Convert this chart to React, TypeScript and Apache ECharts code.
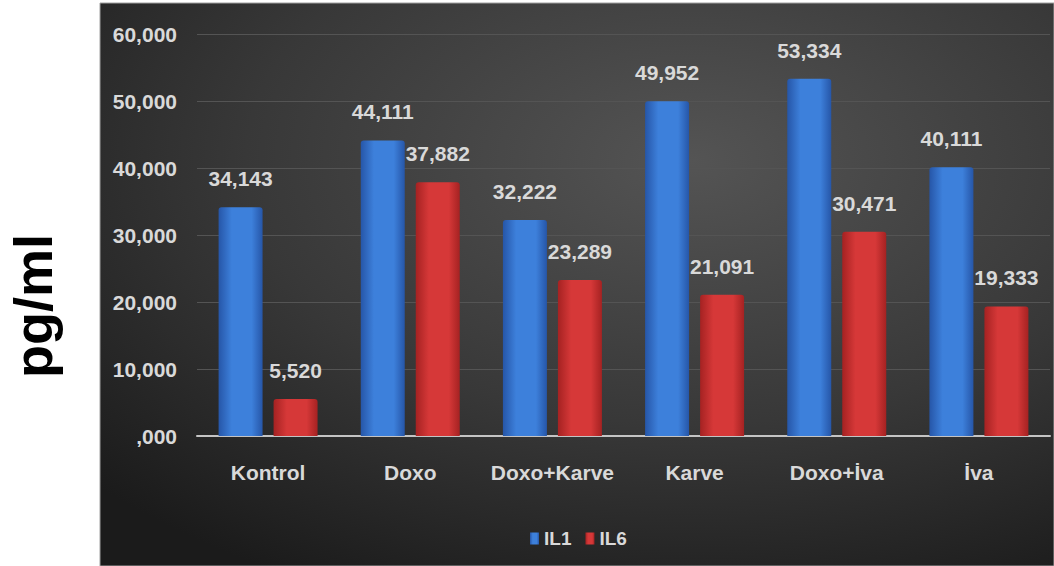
import React, { useEffect, useRef } from "react";
import * as echarts from "echarts";

const categories = ["Kontrol", "Doxo", "Doxo+Karve", "Karve", "Doxo+İva", "İva"];
const il1Values = [34.143, 44.111, 32.222, 49.952, 53.334, 40.111];
const il6Values = [5.52, 37.882, 23.289, 21.091, 30.471, 19.333];
const seriesNames = ["IL1", "IL6"];
const yAxisTitle = "pg/ml";

const fmt = (v: number) => {
  const s = v.toFixed(3).replace(".", ",");
  return s.startsWith("0,") ? s.slice(1) : s;
};

const barGrad = (edge: string, mid: string) =>
  new echarts.graphic.LinearGradient(0, 0, 1, 0, [
    { offset: 0, color: edge },
    { offset: 0.3, color: mid },
    { offset: 0.75, color: mid },
    { offset: 1, color: edge },
  ]);

const FONT = "Liberation Sans Narrow, Liberation Sans, Arial, sans-serif";

export default function App() {
  const ref = useRef<HTMLDivElement>(null);
  useEffect(() => {
    if (!ref.current) return;
    const chart = echarts.init(ref.current, undefined, { renderer: "svg" });
    const labelStyle = {
      show: true,
      position: "top" as const,
      distance: 18,
      color: "#d9d9d9",
      fontSize: 21,
      fontFamily: FONT,
      fontWeight: "bold" as const,
      formatter: (p: any) => fmt(p.value),
    };
    chart.setOption({
      animation: false,
      backgroundColor: "#ffffff",
      textStyle: { fontFamily: FONT },
      graphic: [
        {
          type: "rect",
          z: -10,
          shape: { x: 100, y: 3, width: 954, height: 563 },
          style: {
            fill: new echarts.graphic.RadialGradient(0.62, 0.28, 0.85, [
              { offset: 0, color: "#545454" },
              { offset: 0.55, color: "#383838" },
              { offset: 1, color: "#1b1b1b" },
            ]),
            stroke: "#a0a0a0",
            lineWidth: 1,
          },
        },
        {
          type: "text",
          x: 33,
          y: 306,
          rotation: Math.PI / 2,
          style: {
            text: yAxisTitle,
            fill: "#000000",
            font: "bold 54px Liberation Sans, Arial, sans-serif",
            align: "center",
            verticalAlign: "middle",
          },
        },
      ],
      grid: { left: 197, right: 4, top: 34, bottom: 130, containLabel: false },
      legend: {
        data: seriesNames,
        top: 524,
        left: 525,
        itemWidth: 9,
        itemHeight: 12,
        itemGap: 14,
        icon: "rect",
        textStyle: { color: "#d9d9d9", fontSize: 19, fontWeight: "bold", fontFamily: FONT },
      },
      xAxis: {
        type: "category",
        data: categories,
        axisLine: { lineStyle: { color: "#c4c4c4", width: 2 } },
        axisTick: { show: false },
        axisLabel: {
          interval: 0,
          color: "#d9d9d9",
          fontSize: 21,
          fontWeight: "bold",
          fontFamily: FONT,
          margin: 26,
        },
      },
      yAxis: {
        type: "value",
        min: 0,
        max: 60,
        interval: 10,
        axisLine: { show: false },
        axisTick: { show: false },
        axisLabel: {
          color: "#d9d9d9",
          fontSize: 21,
          fontWeight: "bold",
          fontFamily: FONT,
          margin: 20,
          formatter: (v: number) => fmt(v),
        },
        splitLine: { lineStyle: { color: "#545454", width: 1 } },
      },
      series: [
        {
          name: seriesNames[0],
          type: "bar",
          data: il1Values,
          barWidth: 44,
          barGap: "25%",
          itemStyle: { color: barGrad("#2656a8", "#3d80db"), borderRadius: [3, 3, 0, 0] },
          label: labelStyle,
        },
        {
          name: seriesNames[1],
          type: "bar",
          data: il6Values,
          barWidth: 44,
          itemStyle: { color: barGrad("#a52222", "#d63838"), borderRadius: [3, 3, 0, 0] },
          label: labelStyle,
        },
      ],
    });
    return () => chart.dispose();
  }, []);
  return (
    <div
      ref={ref}
      style={{ position: "fixed", left: 0, top: 0, width: 1054, height: 566 }}
    />
  );
}
